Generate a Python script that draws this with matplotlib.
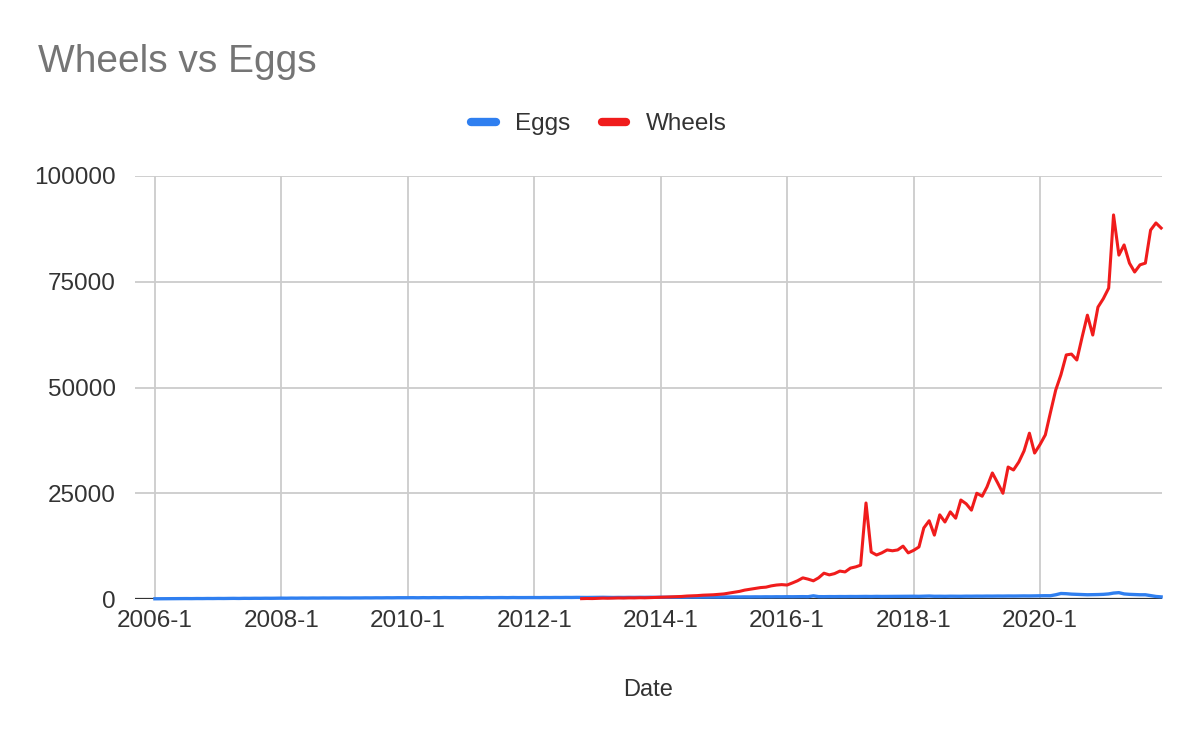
import numpy as np
import pandas as pd
import matplotlib
matplotlib.use('Agg')
import matplotlib.pyplot as plt
from matplotlib.lines import Line2D

plt.rcParams['font.family'] = ['Liberation Sans', 'DejaVu Sans']

# meses 2006-1 .. 2021-12
meses = pd.date_range('2006-01-01', periods=192, freq='MS')

eggs = [
    50, 60, 70, 80, 70, 90, 100, 90, 110, 100, 120, 110,
    130, 120, 140, 150, 130, 160, 150, 170, 160, 180, 170, 190,
    200, 190, 210, 200, 220, 210, 230, 220, 240, 230, 250, 240,
    250, 240, 260, 250, 270, 260, 280, 270, 290, 280, 300, 290,
    300, 310, 290, 320, 300, 330, 310, 340, 320, 330, 310, 340,
    320, 330, 310, 340, 320, 330, 340, 320, 350, 330, 340, 330,
    340, 330, 350, 340, 360, 350, 370, 360, 380, 370, 360, 380,
    420, 400, 380, 360, 380, 370, 390, 380, 400, 390, 410, 400,
    420, 410, 430, 420, 440, 430, 450, 440, 460, 450, 470, 460,
    480, 470, 490, 480, 500, 490, 510, 500, 520, 510, 530, 520,
    540, 530, 550, 560, 540, 750, 560, 550, 570, 560, 580, 570,
    590, 580, 600, 610, 590, 620, 600, 610, 630, 610, 620, 640,
    650, 630, 660, 700, 640, 650, 630, 660, 650, 640, 670, 660,
    680, 670, 690, 680, 700, 690, 710, 700, 720, 730, 720, 740,
    760, 780, 770, 1000, 1300, 1250, 1150, 1100, 1050, 1000, 1020, 1050,
    1100, 1200, 1400, 1500, 1200, 1100, 1050, 1000, 1000, 800, 600, 500,
]

nan = np.nan
wheels = [nan] * 81 + [
    80, 120, 100,
    150, 200, 180, 220, 250, 230, 270, 260, 300, 280, 320, 350,
    400, 450, 500, 550, 600, 700, 750, 800, 900, 950, 1000, 1100,
    1200, 1400, 1600, 1800, 2100, 2300, 2500, 2700, 2800, 3100, 3300, 3400,
    3300, 3800, 4300, 5000, 4700, 4300, 5000, 6100, 5700, 6000, 6600, 6400,
    7300, 7600, 8000, 22700, 11100, 10400, 10900, 11600, 11400, 11600, 12500, 10900,
    11500, 12300, 16800, 18500, 15100, 19900, 18200, 20600, 19100, 23400, 22500, 21000,
    25000, 24300, 26500, 29800, 27500, 25000, 31200, 30500, 32400, 35000, 39200, 34500,
    36500, 38800, 44000, 49400, 53000, 57700, 57900, 56500, 62000, 67100, 62400, 69000,
    71000, 73500, 90800, 81300, 83700, 79400, 77300, 79000, 79400, 87200, 88900, 87700,
]

azul = '#2f7ff0'
rojo = '#f01c1c'

fig = plt.figure(figsize=(12, 7.42), dpi=100)
ax = fig.add_axes([135/1200, 1 - 599/742, (1162-135)/1200, (599-176)/742])

ax.plot(meses, eggs, color=azul, lw=2.4, clip_on=False, zorder=3)
ax.plot(meses, wheels, color=rojo, lw=2.2, clip_on=False, zorder=4)
ax.axhline(0, color='#333333', lw=1.6, zorder=2)

ax.set_ylim(0, 100000)
ax.set_xlim(pd.Timestamp('2005-09-08'), pd.Timestamp('2021-12-06'))

anios = list(range(2006, 2021, 2))
ax.set_xticks([pd.Timestamp(f'{a}-01-01') for a in anios])
ax.set_xticklabels([f'{a}-1' for a in anios])
ax.set_yticks([0, 25000, 50000, 75000, 100000])
ax.set_yticklabels(['0', '25000', '50000', '75000', '100000'])

ax.grid(True, color='#cccccc', lw=1.3, zorder=0)
for s in ax.spines.values():
    s.set_visible(False)
ax.tick_params(length=0, labelsize=17.5, colors='#333333')
ax.tick_params(axis='y', pad=14)
ax.tick_params(axis='x', pad=8)

fig.text(38/1200, 1 - 62/742, 'Wheels vs Eggs', fontsize=28, color='#757575',
         va='center', ha='left')
fig.text(648/1200, 1 - 690/742, 'Date', fontsize=17, color='#333333',
         va='center', ha='center')

handles = [Line2D([], [], color=azul, lw=6, solid_capstyle='round'),
           Line2D([], [], color=rojo, lw=6, solid_capstyle='round')]
fig.legend(handles, ['Eggs', 'Wheels'], loc='center', ncol=2,
           bbox_to_anchor=(599/1200, 1 - 124/742), frameon=False,
           fontsize=17.5, handlelength=1.0, handletextpad=0.8, columnspacing=1.3,
           labelcolor='#333333')

fig.savefig('out.png', dpi=100)
